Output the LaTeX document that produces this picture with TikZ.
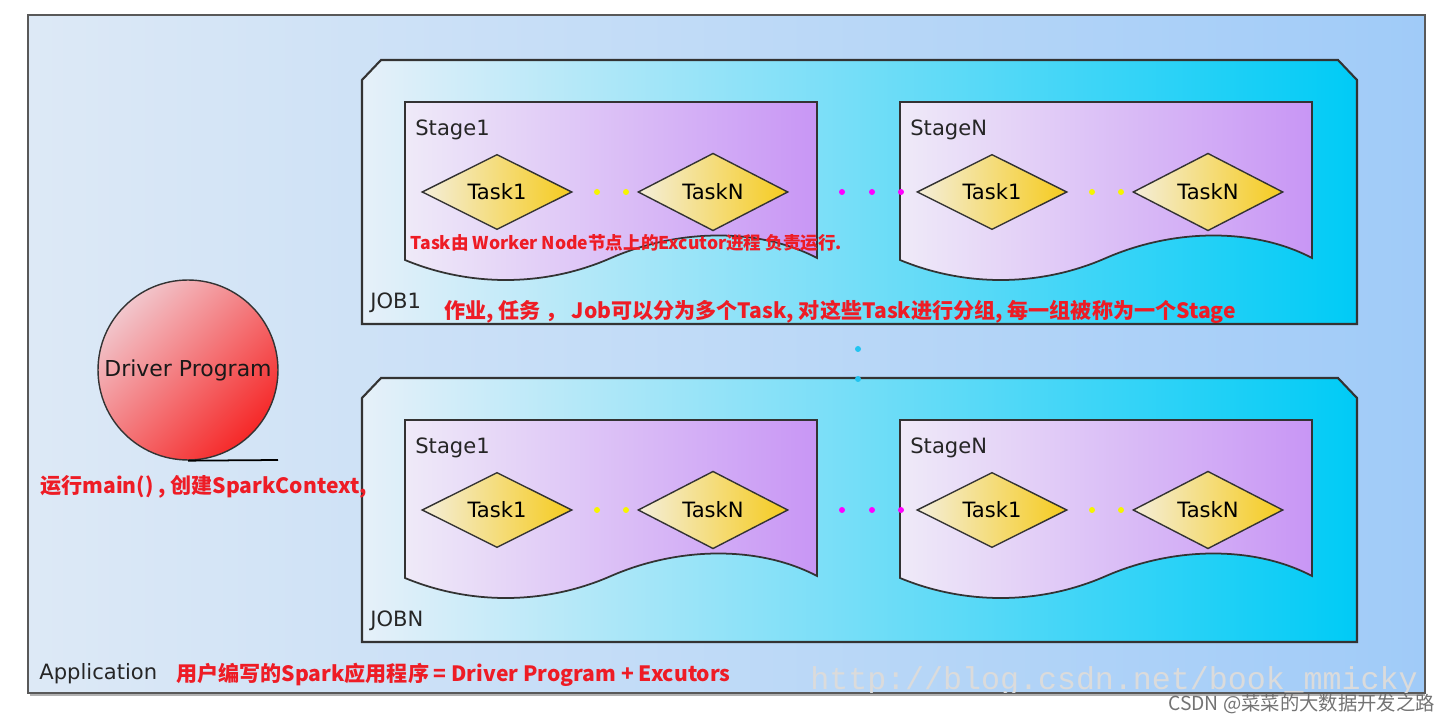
\documentclass[tikz,border=0pt]{standalone}
\usepackage{fontspec}
\setmainfont{DejaVu Sans}
\newfontfamily\cjk{Noto Sans CJK SC}
\newfontfamily\wmfont{Liberation Mono}
\usetikzlibrary{shapes.geometric,positioning}

\definecolor{appleft}{HTML}{DDE9F6}
\definecolor{appright}{HTML}{A0CBF8}
\definecolor{jobleft}{HTML}{E6F0F9}
\definecolor{jobright}{HTML}{00CBF6}
\definecolor{stageleft}{HTML}{EFEAF8}
\definecolor{stageright}{HTML}{C896F5}
\definecolor{taskleft}{HTML}{F4EEDA}
\definecolor{taskright}{HTML}{F5CB1E}
\definecolor{drvlight}{HTML}{F2C6CC}
\definecolor{drvdark}{HTML}{F52828}
\definecolor{notered}{HTML}{EE1C25}
\definecolor{dotyellow}{HTML}{F5F500}
\definecolor{dotpink}{HTML}{FF00FF}
\definecolor{dotcyan}{HTML}{22C4F0}

\tikzset{
  appbox/.style={draw=black!65, line width=1pt, left color=appleft, right color=appright},
  jobbox/.style={draw=black!80, line width=1.2pt, left color=jobleft, right color=jobright},
  stagebox/.style={draw=black!80, line width=1pt, left color=stageleft, right color=stageright},
  task/.style={diamond, draw=black!80, line width=0.8pt, left color=taskleft, right color=taskright,
               minimum width=3cm, minimum height=1.48cm, inner sep=0pt,
               font=\fontsize{12}{14}\selectfont},
  lbl/.style={font=\fontsize{12}{14}\selectfont, text=black!85, inner sep=0pt},
  note/.style={font=\cjk\bfseries\fontsize{12}{14}\selectfont, text=notered, inner sep=0pt},
}

\begin{document}
\begin{tikzpicture}[x=0.02cm, y=-0.02cm]
  \useasboundingbox (0,0) rectangle (1451,722);

  % application
  \draw[black!30, line width=1.5pt] (30,695) -- (1425,695);
  \path[appbox] (28,15) rectangle (1425,693);
  \node[lbl, anchor=base west] (app) at (39,680) {Application};

  % watermark, cut off by the application frame
  \begin{scope}
    \clip (28,15) rectangle (1425,693);
    \node[font=\wmfont\fontsize{18}{20}\selectfont, text=black!14, anchor=base west, inner sep=0pt] (wm) at (810,689)
      {http://blog.csdn.net/book\_mmicky};
  \end{scope}

  % driver
  \node[circle, draw=black!80, line width=0.8pt, top color=drvlight, bottom color=drvdark,
        shading angle=45, minimum size=3.6cm, inner sep=0pt,
        font=\fontsize{12.5}{14}\selectfont, text=black!90] (driver) at (188,370) {Driver Program};
  \coordinate (drvend) at (278,460);
  \draw[line width=1pt] (driver.south) -- (drvend);

  % jobs
  \foreach \jy/\job/\jobtext in {0/job1/JOB1, 318/jobN/JOBN} {
    \begin{scope}[shift={(0,\jy)}]
      \path[jobbox] (362,80) -- (381,60) -- (1338,60) -- (1357,80) -- (1357,324) -- (362,324) -- cycle;
      \node[lbl, anchor=base west] (\job) at (370,309) {\jobtext};
      \foreach \sx/\stage/\stagetext in {0/s1/Stage1, 495/sN/StageN} {
        \begin{scope}[shift={(\sx,0)}]
          \path[stagebox] (405,102) -- (817,102) -- (817,258)
            .. controls (760,228) and (680,228) .. (611,258)
            .. controls (545,287) and (470,287) .. (405,260) -- cycle;
          \node[lbl, anchor=base west] (\job-\stage) at (415,136) {\stagetext};
          \node[task] (\job-\stage-t1) at (497,192) {Task1};
          \node[task] (\job-\stage-tN) at (713,192) {TaskN};
          \foreach \dx in {597,626}
            \fill[dotyellow] (\dx,192) circle (3);
        \end{scope}
      }
      \foreach \dx in {842,872,901}
        \fill[dotpink] (\dx,192) circle (3);
    \end{scope}
  }
  \fill[dotcyan] (858,349) circle (3);
  \fill[dotcyan] (858,379) circle (3);

  % notes
  \node[note, anchor=west] (drvnote) at (40,487) {运行main() , 创建SparkContext,};
  \node[note, font=\cjk\bfseries\fontsize{10}{12}\selectfont, anchor=west] (tasknote) at (410,243)
    {Task由 Worker Node节点上的Excutor进程 负责运行.};
  \node[note, anchor=west] (jobnote) at (444,312)
    {作业, 任务 ， Job可以分为多个Task, 对这些Task进行分组, 每一组被称为一个Stage};
  \node[note, anchor=west] (appnote) at (176,675) {用户编写的Spark应用程序 = Driver Program + Excutors};

  \node[font=\cjk\fontsize{11}{13}\selectfont, text=black!55, anchor=east, inner sep=0pt] (csdn) at (1435,704)
    {CSDN @菜菜的大数据开发之路};
\end{tikzpicture}
\end{document}
